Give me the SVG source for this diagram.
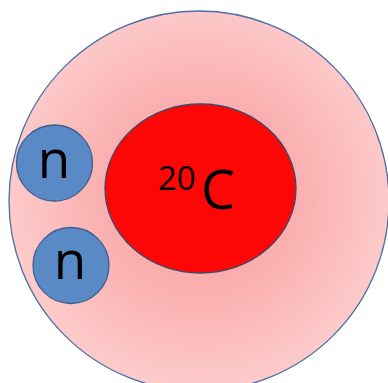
<svg xmlns="http://www.w3.org/2000/svg" width="388" height="383" viewBox="0 0 388 383">
<style>
.lbl{font-family:"Open Sans","Liberation Sans",sans-serif;fill:#000}
.neu{fill:#5a8ac6;stroke:#3d5f8f;stroke-width:1.3}
</style>
<defs>
<radialGradient id="g" cx="200" cy="195" r="192" gradientUnits="userSpaceOnUse">
<stop offset="0" stop-color="#f8a2a2"/>
<stop offset="0.5" stop-color="#faafaf"/>
<stop offset="1" stop-color="#fdcaca"/>
</radialGradient>
</defs>
<rect width="388" height="383" fill="#fff"/>
<g id="atom">
<circle cx="199" cy="201" r="190" fill="url(#g)" stroke="#4a6fa5" stroke-width="1.3"/>
</g>
<g id="core">
<ellipse cx="200.5" cy="188.5" rx="95.5" ry="84.5" fill="#ff0606" stroke="#3a4a6a" stroke-width="1.3"/>
<text class="lbl" x="158" y="190" font-size="33">20</text>
<text class="lbl" x="201" y="209" font-size="54">C</text>
</g>
<g id="n1">
<circle class="neu" cx="54.5" cy="163" r="38"/>
<text class="lbl" x="54" y="178" font-size="53" text-anchor="middle">n</text>
</g>
<g id="n2">
<circle class="neu" cx="71" cy="265.5" r="38"/>
<text class="lbl" x="70" y="279" font-size="53" text-anchor="middle">n</text>
</g>
<g id="connectors"/>
</svg>
